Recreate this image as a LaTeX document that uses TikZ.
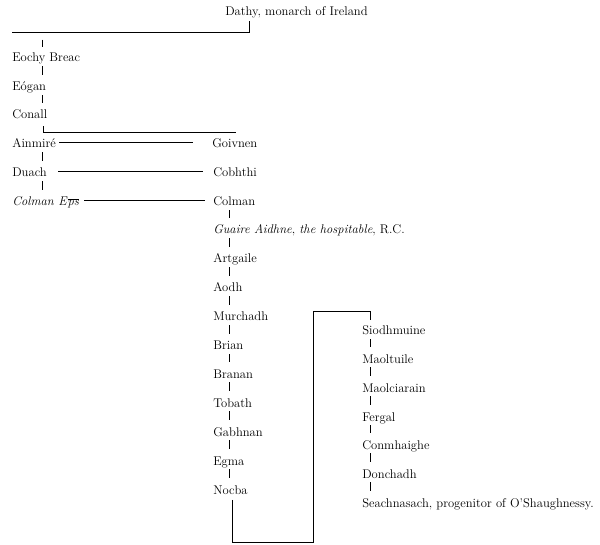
\documentclass[tikz,border=0pt]{standalone}
\usepackage{fontspec}
\usetikzlibrary{calc}
\newcommand{\genfont}{\fontsize{12.6}{14}\selectfont}

\begin{document}
\begin{tikzpicture}[
    x=1pt,y=-1pt,line width=0.6pt,
    gen/.style={anchor=base west,inner sep=0pt,text height=8pt,text depth=2.5pt,font=\genfont},
    tick/.style={shorten <=1.5pt,shorten >=7.5pt}
]
\useasboundingbox (0,0) rectangle (600,545);
% tick columns
\coordinate (lx) at (42,0);
\coordinate (mx) at (229,0);
\coordinate (rx) at (370,0);

\node[gen] (dathy) at (225,16) {Dathy, monarch of Ireland};

% left column
\node[gen] (eochy) at (12,62) {Eochy Breac};
\node[gen] (eogan) at (12,91) {Eógan};
\node[gen] (conall) at (12,119) {Conall};
\node[gen] (ainmire) at (12,148) {Ainmiré};
\node[gen] (duach) at (12,177) {Duach};
\node[gen] (colmaneps) at (12,206) {\textit{Colman E}$\overline{\textit{ps}}$};

% middle column
\node[gen] (goivnen) at (212,148) {Goivnen};
\node[gen] (cobhthi) at (213,177) {Cobhthi};
\node[gen] (colman) at (213,206) {Colman};
\node[gen] (guaire) at (213,234) {\textit{Guaire Aidhne}, \textit{the hospitable}, R.C.};
\node[gen] (artgaile) at (213,263) {Artgaile};
\node[gen] (aodh) at (213,292) {Aodh};
\node[gen] (murchadh) at (213,321) {Murchadh};
\node[gen] (brian) at (213,350) {Brian};
\node[gen] (branan) at (213,378) {Branan};
\node[gen] (tobath) at (213,407) {Tobath};
\node[gen] (gabhnan) at (213,436) {Gabhnan};
\node[gen] (egma) at (213,465) {Egma};
\node[gen] (nocba) at (213,494) {Nocba};

% right column
\node[gen] (siodh) at (362,335) {Siodhmuine};
\node[gen] (maoltuile) at (362,363) {Maoltuile};
\node[gen] (maolciarain) at (362,392) {Maolciarain};
\node[gen] (fergal) at (362,421) {Fergal};
\node[gen] (conmhaighe) at (362,449) {Conmhaighe};
\node[gen] (donchadh) at (362,478) {Donchadh};
\node[gen] (seach) at (362,507) {Seachnasach, progenitor of O'Shaughnessy.};

% Dathy bar
\draw ($(dathy.south west)+(24,2.5)$) |- ($(eochy.north west)+(0,-21)$);
\draw ($(eochy.north -| lx)+(0,-14)$) -- ++(0,7);

\foreach \a/\b in {eochy/eogan,eogan/conall,ainmire/duach,duach/colmaneps}
    \draw[tick] (\a.south -| lx) -- (\b.north -| lx);

% Conall bracket
\draw ($(conall.south -| lx)+(1,4.5)$) |- ($(goivnen.north west)+(24,-7)$);

% side lines
\draw[shorten <=3pt,shorten >=19pt] ([yshift=2.5pt]ainmire.east) -- ([yshift=2.5pt]ainmire.east -| goivnen.west);
\draw[shorten <=11pt,shorten >=10pt] ([yshift=2.5pt]duach.east) -- ([yshift=2.5pt]duach.east -| cobhthi.west);
\draw[shorten <=5pt,shorten >=8pt] ([yshift=2.5pt]colmaneps.east) -- ([yshift=2.5pt]colmaneps.east -| colman.west);

\foreach \a/\b in {colman/guaire,guaire/artgaile,artgaile/aodh,aodh/murchadh,murchadh/brian,
    brian/branan,branan/tobath,tobath/gabhnan,gabhnan/egma,egma/nocba}
    \draw[tick] (\a.south -| mx) -- (\b.north -| mx);

% Nocba loop
\draw ($(nocba.south west)+(19,3)$) -- ++(0,42) -| ($(siodh.north west)+(-49,-15)$) -| ($(siodh.north -| rx)+(0,-7)$);

\foreach \a/\b in {siodh/maoltuile,maoltuile/maolciarain,maolciarain/fergal,fergal/conmhaighe,
    conmhaighe/donchadh,donchadh/seach}
    \draw[tick] (\a.south -| rx) -- (\b.north -| rx);
\end{tikzpicture}
\end{document}
